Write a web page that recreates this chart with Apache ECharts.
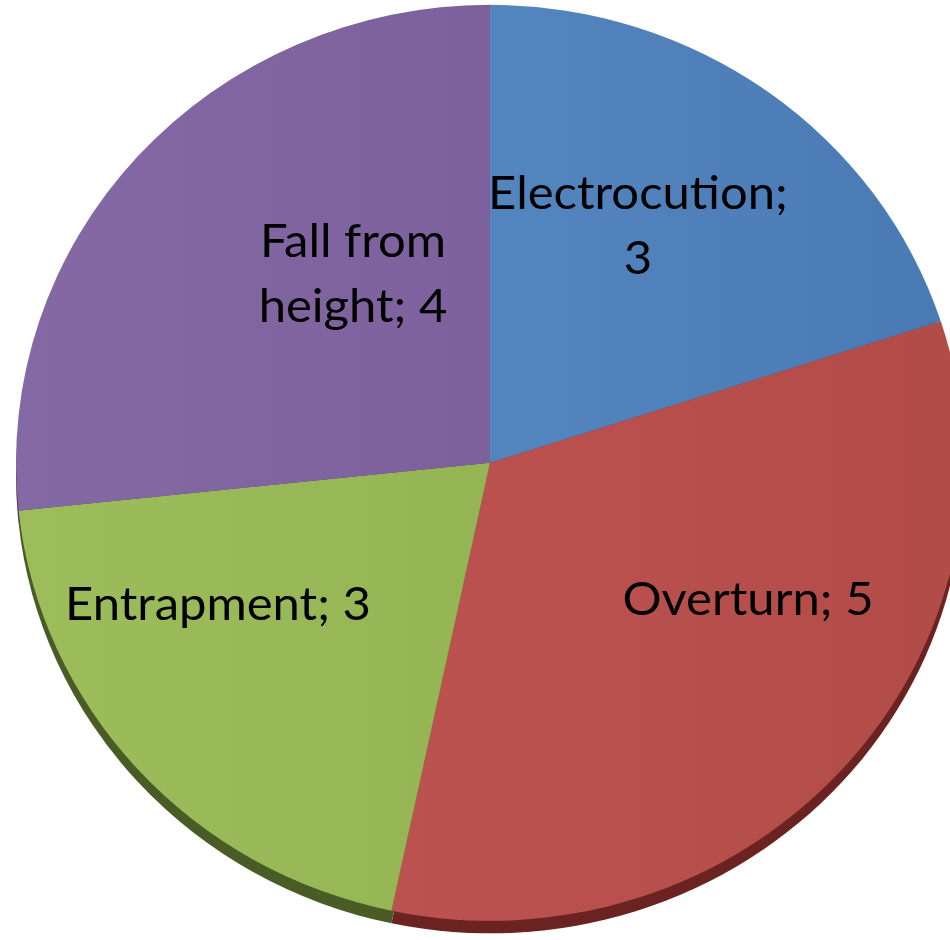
<!DOCTYPE html>
<html>
<head>
<meta charset="utf-8">
<script src="https://cdn.jsdelivr.net/npm/echarts@6/dist/echarts.min.js"></script>
<style>
html,body{margin:0;padding:0;background:#fff;overflow:hidden}
#wrap{width:950px;height:940px;overflow:hidden;position:relative;background:#fff}
#chart{width:950px;height:973px;transform:scaleY(0.9662);transform-origin:0 0}
</style>
</head>
<body>
<div id="wrap"><div id="chart"></div></div>
<script>
// ---- data ----
const categories = ['Electrocution', 'Overturn', 'Entrapment', 'Fall from\nheight'];
const values = [3, 5, 3, 4];
const breakAfterSemicolon = [true, false, false, false];

// ---- styles ----
const faceColors = [['#5385BF', '#4A7AB3'], ['#BC524F', '#B24C49'], ['#9DBD5B', '#95B555'], ['#8469A4', '#7C619D']];
const rimColors = ['#2F4D71', '#6A2321', '#4A5C26', '#4A3A5E'];
const labelPos = [[638, 231], [748, 617], [218, 622], [353, 280]];

const chart = echarts.init(document.getElementById('chart'), null, { renderer: 'svg' });

const faceData = categories.map((c, i) => ({
  name: c,
  value: values[i],
  itemStyle: {
    color: new echarts.graphic.LinearGradient(0, 0, 1, 0, [
      { offset: 0, color: faceColors[i][0] },
      { offset: 1, color: faceColors[i][1] }
    ])
  }
}));
const rimData = categories.map((c, i) => ({
  name: c,
  value: values[i],
  itemStyle: { color: rimColors[i] }
}));

const CX = 490, CY = 479, R = 474;

chart.setOption({
  animation: false,
  series: [
    {
      type: 'pie',
      silent: true,
      z: 1,
      center: [CX, CY + 13],
      radius: R,
      startAngle: 90,
      clockwise: true,
      label: { show: false },
      labelLine: { show: false },
      itemStyle: { borderWidth: 0 },
      data: rimData
    },
    {
      type: 'pie',
      silent: true,
      z: 2,
      center: [CX, CY],
      radius: R,
      startAngle: 90,
      clockwise: true,
      itemStyle: { borderWidth: 0 },
      labelLine: { show: false },
      label: {
        show: true,
        position: 'inside',
        color: '#000',
        fontFamily: 'Lato',
        fontSize: 49,
        lineHeight: 67,
        align: 'center',
        formatter: p => p.name + ';' + (breakAfterSemicolon[p.dataIndex] ? '\n' : ' ') + p.value
      },
      labelLayout: p => ({
        x: labelPos[p.dataIndex][0],
        y: labelPos[p.dataIndex][1],
        align: 'center',
        verticalAlign: 'middle'
      }),
      data: faceData
    }
  ]
});
</script>
</body>
</html>
